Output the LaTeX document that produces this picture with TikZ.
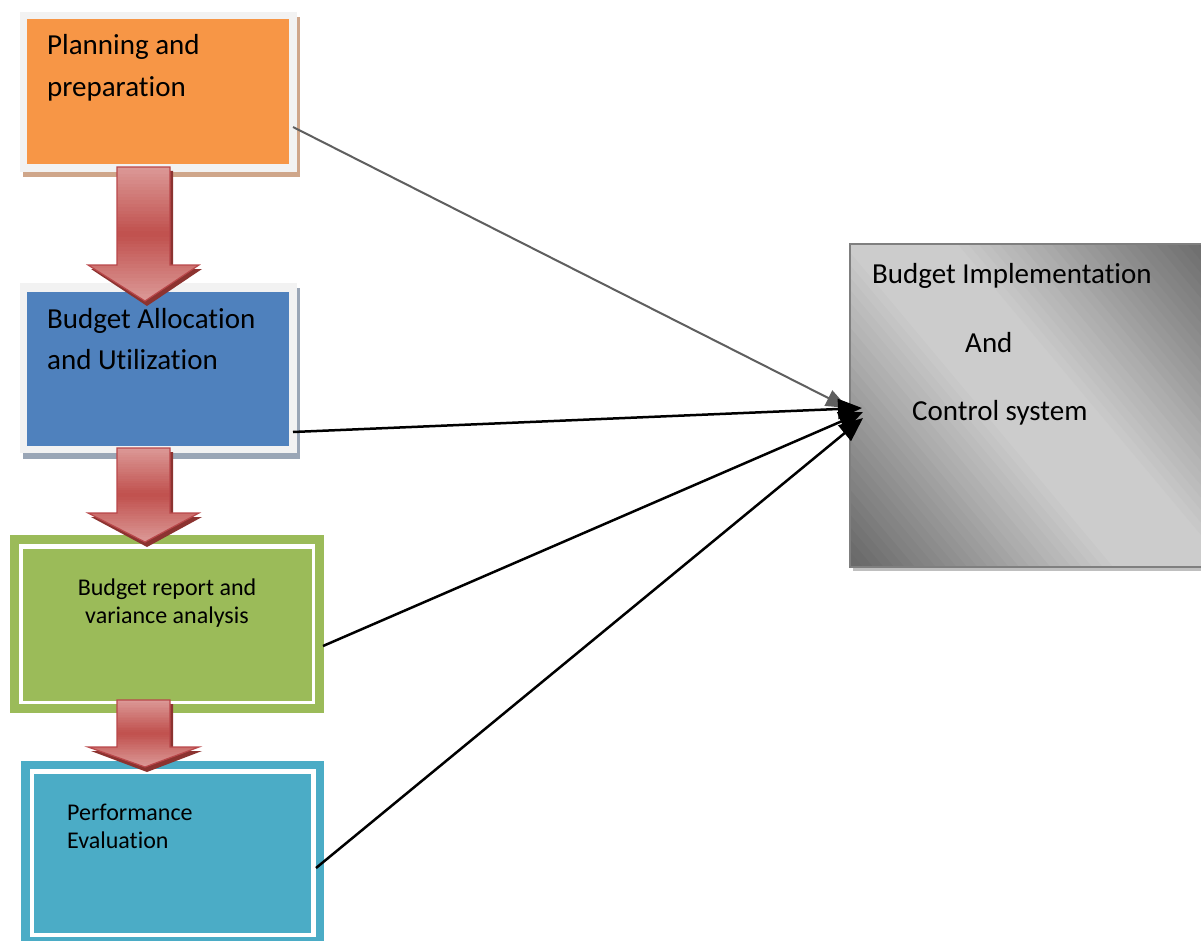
\documentclass[tikz,border=0pt]{standalone}
\usepackage{fontspec}
\setmainfont{Carlito}[Ligatures=NoCommon]
\usetikzlibrary{arrows.meta}
\definecolor{frameg}{HTML}{F2F2F2}
\definecolor{orangef}{HTML}{F79646}
\definecolor{orangesh}{HTML}{CFA68A}
\definecolor{bluef}{HTML}{4F81BD}
\definecolor{bluesh}{HTML}{9AA6B6}
\definecolor{greenf}{HTML}{9BBB59}
\definecolor{tealf}{HTML}{4BACC6}
\definecolor{arrlight}{HTML}{DC9A98}
\definecolor{arrdark}{HTML}{C0504D}
\definecolor{arredge}{HTML}{B9474A}
\definecolor{arrshadow}{HTML}{8C3330}
\definecolor{graydark}{HTML}{6A6A6A}
\definecolor{graylight}{HTML}{CCCCCC}
\definecolor{grayedge}{HTML}{7F7F7F}
\definecolor{grayshadow}{HTML}{BFBFBF}
\definecolor{lineg}{HTML}{5F5F5F}
\newcommand\redblockarrow[3]{%
  \fill[arrshadow] (119,#1+4) -- (173,#1+4) -- (173,#2+4) -- (202,#2+4) -- (147,#3+5) -- (91,#2+4) -- (119,#2+4) -- cycle;
  \begin{scope}
    \clip (117,#1) -- (170,#1) -- (170,#2) -- (199,#2) -- (145,#3) -- (88,#2) -- (117,#2) -- cycle;
    \foreach \i in {0,...,39}{%
      \pgfmathsetmacro\ya{#1+(#3-#1)*\i/40}%
      \pgfmathsetmacro\yb{#1+(#3-#1)*(\i+1.3)/40}%
      \pgfmathtruncatemacro\pc{abs(2*(\i+0.5)/40-1)*100}%
      \fill[arrlight!\pc!arrdark] (80,\ya) rectangle (210,\yb);
    }
  \end{scope}
  \draw[arredge, line width=1.2pt, line join=miter]
    (117,#1) -- (170,#1) -- (170,#2) -- (199,#2) -- (145,#3) -- (88,#2) -- (117,#2) -- cycle;
}
\tikzset{
  boxfill/.style={anchor=north west, inner sep=0pt, outer sep=0pt, draw=none},
  lbl/.style={anchor=base west, inner sep=0pt, font=\fontsize{29}{35}\selectfont},
  lblsmall/.style={anchor=base west, inner sep=0pt, font=\fontsize{24}{29}\selectfont},
  conn/.style={line width=2.5pt, black, -{Triangle[length=24pt,width=20pt]}},
  connG/.style={line width=2pt, lineg, -{Triangle[length=22pt,width=17pt]}},
}
\begin{document}
\begin{tikzpicture}[x=1pt,y=-1pt]
\useasboundingbox (0,0) rectangle (1201,941);
\fill[white] (0,0) rectangle (1201,941);
% Orange box
\fill[orangesh] (23,17) rectangle (300,177);
\fill[frameg] (20,12) rectangle (297,172);
\node[boxfill, fill=orangef, minimum width=262pt, minimum height=145pt] (plan) at (27,19) {};
\node[lbl] (plan1) at (47,55) {Planning and};
\node[lbl] (plan2) at (47,97) {preparation};
% Blue box
\fill[bluesh] (23,288) rectangle (300,459);
\fill[frameg] (20,283) rectangle (297,453);
\node[boxfill, fill=bluef, minimum width=262pt, minimum height=154pt] (alloc) at (27,292) {};
\node[lbl] (alloc1) at (47,328) {Budget Allocation};
\node[lbl] (alloc2) at (47,369) {and Utilization};
% Green box
\fill[greenf] (10,535) rectangle (324,713);
\fill[white] (19,544) rectangle (315,704);
\node[boxfill, fill=greenf, minimum width=289pt, minimum height=152pt] (report) at (23,549) {};
\node[lblsmall, anchor=base] (report1) at (167,595) {Budget report and};
\node[lblsmall, anchor=base] (report2) at (167,623) {variance analysis};
% Teal box
\fill[tealf] (21,761) rectangle (324,945);
\fill[white] (30,769) rectangle (316,937);
\node[boxfill, fill=tealf, minimum width=277pt, minimum height=159pt] (perf) at (34,774) {};
\node[lblsmall] (perf1) at (67,820) {Performance};
\node[lblsmall] (perf2) at (67,848) {Evaluation};
% Gray box
\fill[grayshadow] (853,248) rectangle (1240,571);
\begin{scope}
  \clip (850,244) rectangle (1240,567);
  \begin{scope}[shift={(1035,405)}, rotate=39.9]
    \foreach \k in {-300,-292,...,300}{%
      \pgfmathtruncatemacro\pc{max(0,min(100,(abs(\k+4)-40)/195*100))}%
      \fill[graydark!\pc!graylight] (\k,-450) rectangle (\k+8.8,450);
    }
  \end{scope}
\end{scope}
\node[boxfill, draw=grayedge, line width=2pt, minimum width=390pt, minimum height=323pt] (impl) at (850,244) {};
\node[lbl] (impl1) at (872,283) {Budget Implementation};
\node[lbl] (impl2) at (965,352) {And};
\node[lbl] (impl3) at (912,420) {Control system};
% Block arrows
\redblockarrow{167}{265}{301}
\redblockarrow{448}{513}{542}
\redblockarrow{700}{747}{767}
% Connectors
\coordinate (s1) at (293,127);
\coordinate (t1) at (848,408);
\coordinate (s2) at (293,432);
\coordinate (t2) at (862,408);
\coordinate (s3) at (323,646);
\coordinate (t3) at (863,412);
\coordinate (s4) at (316,868);
\coordinate (t4) at (863,418);
\draw[connG] (s1) -- (t1);
\draw[conn] (s2) -- (t2);
\draw[conn] (s3) -- (t3);
\draw[conn] (s4) -- (t4);
\end{tikzpicture}
\end{document}
